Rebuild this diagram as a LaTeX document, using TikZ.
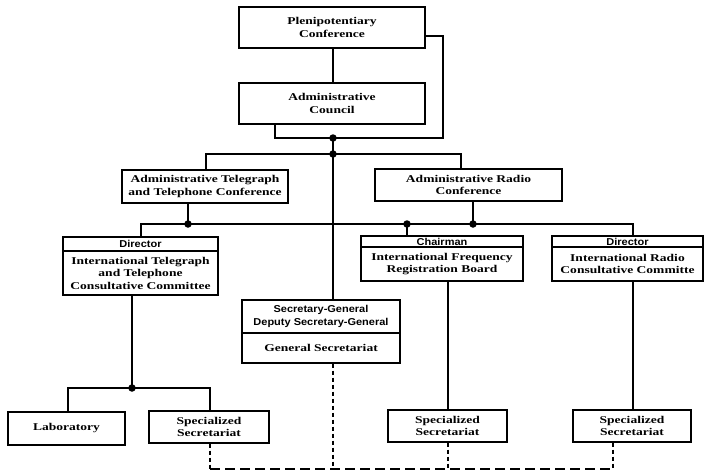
\documentclass[tikz,border=0pt]{standalone}
\usepackage{fontspec}
\newfontfamily\boxserif{Liberation Serif}[FakeStretch=1.3]
\newfontfamily\boxsans{Liberation Sans}[FakeStretch=1.1]
\tikzset{
  ln/.style={line width=1.4pt},
  dl/.style={line width=1.4pt, dash pattern=on 4pt off 3pt},
  dlh/.style={line width=1.4pt, dash pattern=on 10pt off 5pt},
  box/.style={draw, line width=1.4pt, inner sep=0pt, align=center,
    font=\boxserif\bfseries\fontsize{10.4}{12.5}\selectfont},
  hbox/.style={draw, line width=1.4pt, inner sep=0pt, align=center,
    font=\boxsans\bfseries\fontsize{10}{13}\selectfont},
  dot/.style={circle, fill, inner sep=0pt, minimum size=7.5pt}
}
\begin{document}
\begin{tikzpicture}[x=1pt,y=-1pt]
\useasboundingbox (0,0) rectangle (705,471);
% boxes
\node[box, minimum width=186pt, minimum height=41pt] (plen) at (332,27.5) {Plenipotentiary\\Conference};
\node[box, minimum width=186pt, minimum height=41pt] (council) at (332,103.5) {Administrative\\Council};
\node[box, minimum width=166pt, minimum height=33pt] (atc) at (205,186.5) {Administrative Telegraph\\and Telephone Conference};
\node[box, minimum width=187pt, minimum height=32pt] (arc) at (468.5,185) {Administrative Radio\\Conference};
\node[hbox, minimum width=155pt, minimum height=14pt] (ittH) at (140.5,244) {Director};
\node[box, minimum width=155pt, minimum height=44pt] (ittB) at (140.5,273) {International Telegraph\\and Telephone\\Consultative Committee};
\node[hbox, minimum width=162pt, minimum height=11pt] (ifH) at (442,241.5) {Chairman};
\node[box, minimum width=162pt, minimum height=34pt] (ifB) at (442,264) {International Frequency\\Registration Board};
\node[hbox, minimum width=151pt, minimum height=11pt] (irH) at (627.5,241.5) {Director};
\node[box, minimum width=151pt, minimum height=34pt] (irB) at (627.5,264) {International Radio\\Consultative Committe};
\node[hbox, minimum width=158pt, minimum height=33pt] (sgH) at (321,316.5) {Secretary-General\\Deputy Secretary-General};
\node[box, minimum width=158pt, minimum height=30pt] (sgB) at (321,348) {General Secretariat};
\node[box, minimum width=117pt, minimum height=33pt] (lab) at (66.5,428.5) {Laboratory};
\node[box, minimum width=120pt, minimum height=32pt] (ss1) at (209,427) {Specialized\\Secretariat};
\node[box, minimum width=119pt, minimum height=32pt] (ss2) at (447.5,426) {Specialized\\Secretariat};
\node[box, minimum width=118pt, minimum height=32pt] (ss3) at (632,426) {Specialized\\Secretariat};
% junction coordinates
\coordinate (j0) at (275,138);
\coordinate (j1) at (333,138);
\coordinate (jr) at (443,138);
\coordinate (j2) at (333,154);
\coordinate (h1L) at (206,154);
\coordinate (h1R) at (461,154);
\coordinate (h2L) at (141,224);
\coordinate (h2R) at (633,224);
\coordinate (d1) at (188,224);
\coordinate (d2) at (407,224);
\coordinate (d3) at (473,224);
\coordinate (d4) at (132,388);
\coordinate (h3L) at (68,388);
\coordinate (h3R) at (210,388);
\coordinate (v2) at (448,300);
\coordinate (b1) at (210,469);
\coordinate (b2) at (333,469);
\coordinate (b3) at (448,469);
\coordinate (b4) at (613,469);
% solid connectors
\draw[ln] (plen.south -| j1) -- (council.north -| j1);
\draw[ln] (council.south -| j0) -- (j0) -- (jr) |- ([yshift=-8.5pt]plen.east);
\draw[ln] (j1) -- (sgH.north -| j1);
\draw[ln] (atc.north -| h1L) -- (h1L) -- (h1R) -- (arc.north -| h1R);
\draw[ln] (ittH.north -| h2L) -- (h2L) -- (h2R) -- (irH.north -| h2R);
\draw[ln] (atc.south -| d1) -- (d1);
\draw[ln] (arc.south -| d3) -- (d3);
\draw[ln] (d2) -- (ifH.north -| d2);
\draw[ln] (ittB.south -| d4) -- (d4);
\draw[ln] (lab.north -| h3L) -- (h3L) -- (h3R) -- (ss1.north -| h3R);
\draw[ln] (ifB.south -| v2) -- (ss2.north -| v2);
\draw[ln] (irB.south -| h2R) -- (ss3.north -| h2R);
% dots
\node[dot] at (j1) {};
\node[dot] at (j2) {};
\node[dot] at (d1) {};
\node[dot] at (d2) {};
\node[dot] at (d3) {};
\node[dot] at (d4) {};
% dashed connectors
\draw[dl] (ss1.south -| b1) -- (b1);
\draw[dl] (sgB.south -| b2) -- (b2);
\draw[dl] (ss2.south -| b3) -- (b3);
\draw[dl] (ss3.south -| b4) -- (b4);
\draw[dlh] (b1) -- (b4);
\end{tikzpicture}
\end{document}
